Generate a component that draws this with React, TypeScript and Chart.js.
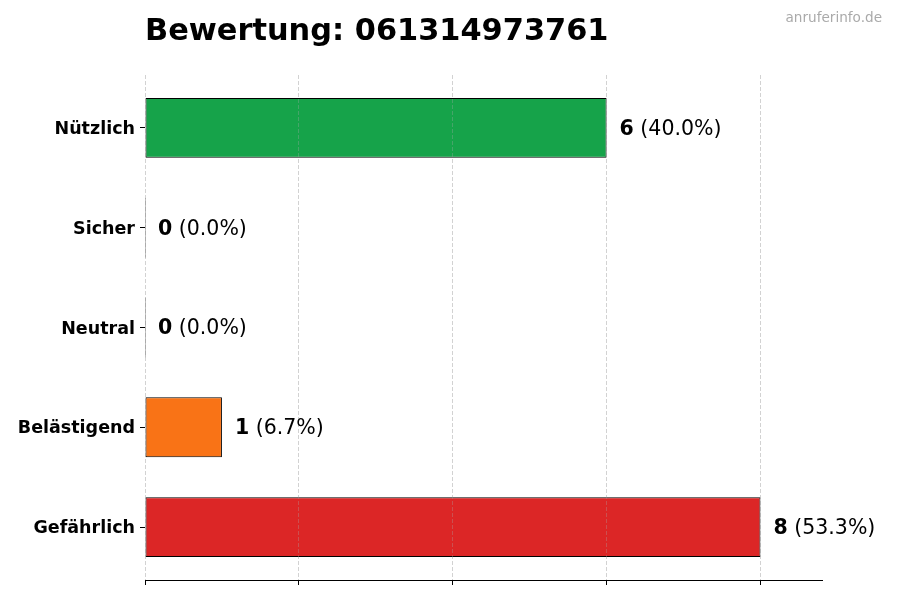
import React, { useEffect, useRef } from "react";
import { Chart, registerables } from "chart.js";

Chart.register(...registerables);

const TITLE = "Bewertung: 061314973761";
const WATERMARK = "anruferinfo.de";
const categories = ["Nützlich", "Sicher", "Neutral", "Belästigend", "Gefährlich"];
const counts = [6, 0, 0, 1, 8];
const barColors = ["#16a34a", "#2563eb", "#6b7280", "#f97316", "#dc2626"];
const xTicks = [0, 2, 4, 6, 8];
const xMax = 8.8;

const FONT = '"DejaVu Sans", sans-serif';

export default function App() {
  const ref = useRef<HTMLCanvasElement | null>(null);

  useEffect(() => {
    if (!ref.current) return;
    const total = counts.reduce((a, b) => a + b, 0);

    const overlay = {
      id: "overlay",
      afterDatasetsDraw(chart: any) {
        const ctx = chart.ctx;
        chart.scales.x.drawGrid(chart.chartArea);
        const meta = chart.getDatasetMeta(0);
        const xs = chart.scales.x;
        ctx.save();
        ctx.textBaseline = "middle";
        ctx.textAlign = "left";
        meta.data.forEach((bar: any, i: number) => {
          const v = counts[i];
          const pct = total ? ((v / total) * 100).toFixed(1) : "0.0";
          let x = xs.getPixelForValue(v) + 13;
          const y = bar.y + 1.5;
          ctx.fillStyle = "#000";
          ctx.font = `bold 20.5px ${FONT}`;
          const s1 = String(v);
          ctx.fillText(s1, x, y);
          x += ctx.measureText(s1).width;
          ctx.font = `20.5px ${FONT}`;
          ctx.fillText(` (${pct}%)`, x, y);
        });
        ctx.restore();
      },
      afterDraw(chart: any) {
        const ctx = chart.ctx;
        ctx.save();
        ctx.textBaseline = "alphabetic";
        ctx.textAlign = "left";
        ctx.fillStyle = "#000";
        ctx.font = `bold 30.4px ${FONT}`;
        ctx.fillText(TITLE, 145, 40);
        ctx.textAlign = "right";
        ctx.fillStyle = "#aaaaaa";
        ctx.font = `13.6px ${FONT}`;
        ctx.fillText(WATERMARK, 882, 22);
        ctx.restore();
      },
    };

    const chart = new Chart(ref.current, {
      type: "bar",
      data: {
        datasets: [
          {
            data: counts.map((v, i) => ({ x: v, y: i })),
            backgroundColor: barColors,
            borderColor: "#000000",
            borderWidth: 1,
            borderSkipped: false,
            categoryPercentage: 0.6,
            barPercentage: 1,
            minBarLength: 1,
          } as any,
        ],
      },
      options: {
        indexAxis: "y",
        animation: false,
        responsive: false,
        maintainAspectRatio: false,
        layout: { padding: { top: 75, right: 78, left: 0, bottom: 0 } },
        plugins: {
          legend: { display: false },
          tooltip: { enabled: false },
          title: { display: false },
        },
        scales: {
          x: {
            type: "linear",
            position: "bottom",
            offset: false,
            min: 0,
            max: xMax,
            afterBuildTicks(scale: any) {
              scale.ticks = xTicks.map((v) => ({ value: v }));
            },
            afterFit(scale: any) {
              scale.height = 20;
            },
            ticks: { display: false },
            grid: {
              display: true,
              offset: false,
              drawOnChartArea: true,
              drawTicks: true,
              tickLength: 5,
              tickColor: "#000",
              tickWidth: 1,
              color: "rgba(170,170,170,0.32)",
              lineWidth: 1,
            },
            border: { display: true, color: "#000", width: 1, dash: [4, 2] },
          },
          y: {
            type: "linear",
            position: "left",
            reverse: true,
            offset: false,
            min: -0.53,
            max: 4.53,
            afterBuildTicks(scale: any) {
              scale.ticks = categories.map((_, i) => ({ value: i }));
            },
            afterFit(scale: any) {
              scale.width = 145;
            },
            ticks: {
              padding: 5,
              labelOffset: 1.5,
              color: "#000",
              font: { family: FONT, size: 17.5, weight: "bold" },
              callback: (v: any) => categories[v as number] ?? "",
            },
            grid: {
              display: true,
              offset: false,
              drawOnChartArea: false,
              drawTicks: true,
              tickLength: 5,
              tickColor: "#000",
              color: "#000",
            },
            border: { display: false },
          },
        },
      } as any,
      plugins: [overlay],
    });
    return () => chart.destroy();
  }, []);

  return (
    <div style={{ position: "fixed", left: 0, top: 0, width: 900, height: 600, background: "#fff" }}>
      <canvas ref={ref} width={900} height={600} style={{ width: 900, height: 600, display: "block" }} />
    </div>
  );
}
